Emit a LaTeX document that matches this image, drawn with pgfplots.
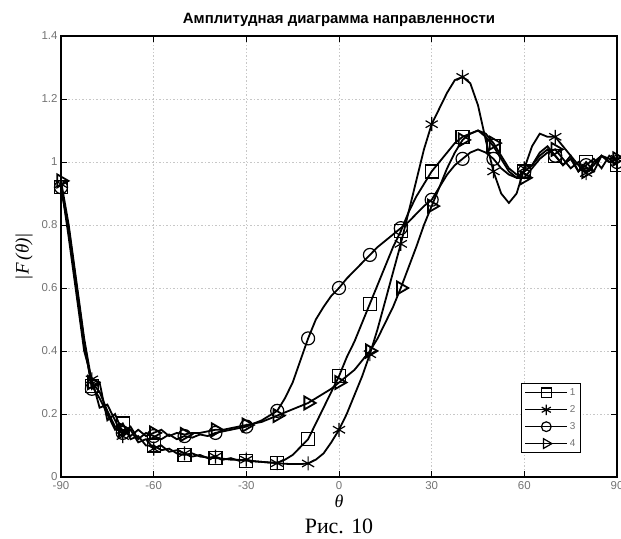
\documentclass[border=0pt]{standalone}
\usepackage{pgfplots}
\pgfplotsset{compat=1.18}
\usepackage{pgfplotstable}
\usepackage{fontspec}
\setmainfont{Liberation Serif}
\newfontfamily\arial{Liberation Sans}

% theta, |F| for curves 1 (squares), 2 (stars), 3 (circles), 4 (triangles)
\pgfplotstableread{
x      a      b      c      d
-90    0.92   0.93   0.92   0.94
-87.5  0.78   0.76   0.79   0.80
-85    0.60   0.58   0.61   0.62
-82.5  0.42   0.40   0.43   0.44
-80    0.29   0.31   0.28   0.30
-77.5  0.25   0.22   0.30   0.27
-75    0.20   0.23   0.18   0.21
-72.5  0.15   0.18   0.20   0.16
-70    0.17   0.13   0.14   0.15
-67.5  0.12   0.15   0.16   0.13
-65    0.13   0.11   0.12   0.15
-62.5  0.10   0.12   0.14   0.13
-60    0.10   0.09   0.13   0.14
-57.5  0.085  0.10   0.12   0.15
-55    0.09   0.08   0.135  0.13
-52.5  0.075  0.085  0.12   0.14
-50    0.07   0.075  0.13   0.135
-47.5  0.075  0.065  0.125  0.14
-45    0.065  0.07   0.135  0.14
-42.5  0.062  0.06   0.13   0.145
-40    0.06   0.065  0.14   0.15
-37.5  0.058  0.055  0.145  0.15
-35    0.055  0.06   0.15   0.155
-32.5  0.055  0.052  0.155  0.16
-30    0.052  0.055  0.16   0.165
-27.5  0.05   0.05   0.17   0.17
-25    0.048  0.048  0.18   0.175
-22.5  0.046  0.046  0.195  0.185
-20    0.045  0.044  0.21   0.195
-17.5  0.055  0.042  0.25   0.205
-15    0.07   0.041  0.30   0.215
-12.5  0.095  0.041  0.37   0.225
-10    0.12   0.043  0.44   0.235
-7.5   0.17   0.055  0.50   0.25
-5     0.22   0.075  0.54   0.265
-2.5   0.27   0.11   0.575  0.28
0      0.32   0.15   0.60   0.30
2.5    0.38   0.20   0.63   0.32
5      0.43   0.26   0.655  0.34
7.5    0.49   0.32   0.68   0.37
10     0.55   0.39   0.705  0.40
12.5   0.61   0.47   0.73   0.44
15     0.67   0.56   0.75   0.49
17.5   0.73   0.65   0.77   0.54
20     0.78   0.74   0.79   0.60
22.5   0.84   0.84   0.81   0.665
25     0.89   0.94   0.835  0.73
27.5   0.93   1.04   0.86   0.80
30     0.97   1.12   0.88   0.86
32.5   1.00   1.17   0.92   0.92
35     1.03   1.22   0.96   0.98
37.5   1.06   1.26   0.99   1.03
40     1.08   1.27   1.01   1.07
42.5   1.09   1.25   1.03   1.09
45     1.10   1.18   1.04   1.10
47.5   1.08   1.07   1.03   1.09
50     1.05   0.97   1.01   1.06
52.5   1.01   0.90   0.98   1.02
55     0.97   0.87   0.96   0.98
57.5   0.95   0.90   0.95   0.96
60     0.97   0.98   0.97   0.95
62.5   0.99   1.05   0.99   0.98
65     1.02   1.09   1.03   1.01
67.5   1.04   1.08   1.05   1.03
70     1.02   1.08   1.02   1.04
72.5   0.99   1.05   0.99   1.01
75     1.01   1.02   1.02   0.98
77.5   0.97   0.99   0.97   1.00
80     1.00   0.965  0.99   0.97
82.5   0.97   1.00   1.01   0.99
85     1.02   1.02   0.98   1.02
87.5   1.01   1.00   1.02   1.00
90     0.99   1.01   1.00   1.01
}\dirdata

\begin{document}
\begin{tikzpicture}
\begin{axis}[
  scale only axis,
  width=556bp, height=441bp,
  xmin=-90, xmax=90, ymin=0, ymax=1.4,
  xtick={-90,-60,...,90},
  ytick={0,0.2,0.4,0.6,0.8,1,1.2,1.4},
  /pgf/number format/assume math mode=true,
  tick label style={font=\arial\fontsize{11.5}{13}\selectfont, text=black!55},
  xticklabel style={yshift=-1bp},
  tick align=inside,
  major tick length=6bp,
  tick style={black, line width=0.8bp},
  axis line style={line width=1.4bp},
  grid=major,
  major grid style={black!22, line width=0.7bp, dash pattern=on 1.5bp off 2bp},
  title={Амплитудная диаграмма направленности},
  title style={font=\arial\bfseries\fontsize{15}{17}\selectfont, yshift=0bp},
  xlabel={\textit{θ}},
  xlabel style={font=\fontsize{18}{20}\selectfont, yshift=2bp},
  ylabel={\textit{|F\,(θ)|}},
  ylabel style={font=\fontsize{19}{21}\selectfont, yshift=2bp},
  every axis plot/.append style={black, line width=1.8bp, mark repeat=4, mark phase=1,
    mark options={solid, line width=1.2bp}},
  legend style={at={(0.935,0.054)}, anchor=south east, draw=black, line width=0.9bp,
    font=\arial\fontsize{10}{11}\selectfont, text=black!55, row sep=4.5bp,
    inner sep=3bp},
  legend cell align=left,
  legend image code/.code={\draw[mark repeat=2, mark phase=2, #1, line width=1.2bp,
      /tikz/every mark/.append style={scale=0.75}]
    plot coordinates {(0bp,0bp) (21bp,0bp) (42bp,0bp)};},
]
\addplot[mark=square, mark size=6.5bp] table[x=x, y=a] {\dirdata};
\addplot[mark=asterisk, mark size=7bp] table[x=x, y=b] {\dirdata};
\addplot[mark=o, mark size=6.5bp] table[x=x, y=c] {\dirdata};
\addplot[mark=triangle, mark size=7.5bp, mark options={rotate=-90}] table[x=x, y=d] {\dirdata};
\legend{1,2,3,4}
\coordinate (sw) at (rel axis cs:0,0);
\coordinate (ne) at (rel axis cs:1,1);
\coordinate (bc) at (rel axis cs:0.5,0);
\end{axis}
\node[font=\fontsize{22}{24}\selectfont] at ([yshift=-49bp]bc) {Рис. 10};
\pgfresetboundingbox
\path[use as bounding box] ([xshift=-61bp, yshift=-61bp]sw) rectangle ([xshift=4bp, yshift=36bp]ne);
\end{tikzpicture}
\end{document}
